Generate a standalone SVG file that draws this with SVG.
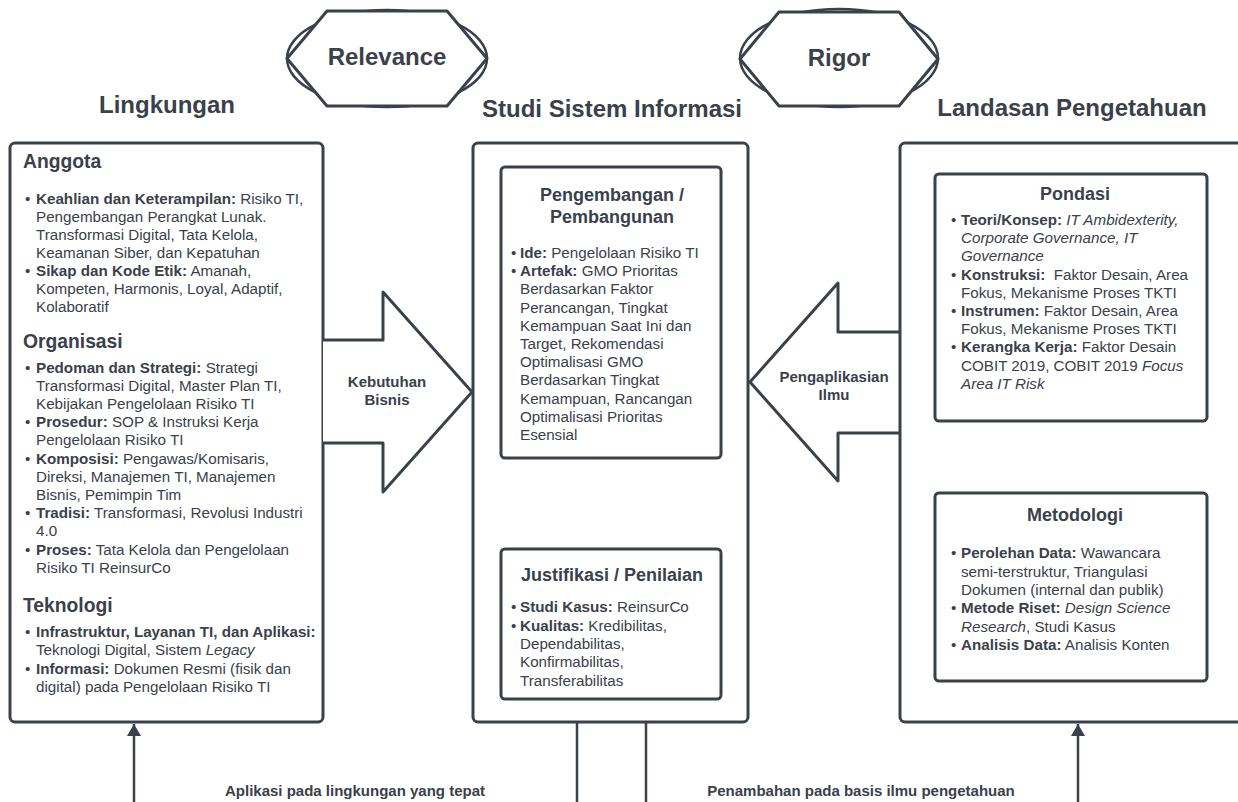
<svg xmlns="http://www.w3.org/2000/svg" width="1238" height="802" viewBox="0 0 1238 802">
<defs>
<style>
.t{font-family:"Liberation Sans",Arial,sans-serif;fill:#3a414a}
.bd{font-size:15.2px}
.b{font-weight:bold}
.i{font-style:italic}
.h{font-size:19.3px;font-weight:bold}
.sh{font-size:18px;font-weight:bold;text-anchor:middle}
.tt{font-size:24px;font-weight:bold;text-anchor:middle}
.lb{font-size:15px;font-weight:bold;text-anchor:middle}
.sm{font-size:12px;font-weight:bold}
.box{fill:#fff;stroke:#3a414a;stroke-width:3}
.ln{stroke:#3a414a;stroke-width:2.5;fill:none}
.hex{fill:#fff;stroke:#3a414a;stroke-width:3;stroke-linejoin:round}
.ell{fill:none;stroke:#3a414a;stroke-width:2.5}
</style>
<marker id="ah" viewBox="0 0 12 14" refX="12" refY="7" markerWidth="12" markerHeight="14" markerUnits="userSpaceOnUse" orient="auto">
<path d="M0,0 L12,7 L0,14 Z" fill="#3a414a"/>
</marker>
</defs>
<rect width="1238" height="802" fill="#fff"/>

<g id="relevance">
<ellipse class="ell" cx="387" cy="58.5" rx="100" ry="48.5"/>
<polygon class="hex" points="287,58.5 327,11 447,11 487,58.5 447,106 327,106"/>
<text class="t tt" x="387" y="65">Relevance</text>
</g>
<g id="rigor">
<ellipse class="ell" cx="839" cy="58" rx="99" ry="49"/>
<polygon class="hex" points="740,59 779,12 899,12 938,59 899,106 779,106"/>
<text class="t tt" x="839" y="66">Rigor</text>
</g>

<g id="titles">
<text class="t tt" x="167" y="113">Lingkungan</text>
<text class="t tt" x="612" y="117">Studi Sistem Informasi</text>
<text class="t tt" x="1072" y="116">Landasan Pengetahuan</text>
</g>

<g id="connectors">
<line class="ln" x1="134" y1="802" x2="134" y2="724" marker-end="url(#ah)"/>
<line class="ln" x1="1078" y1="802" x2="1078" y2="724" marker-end="url(#ah)"/>
<line class="ln" x1="577" y1="722" x2="577" y2="802"/>
<line class="ln" x1="646" y1="722" x2="646" y2="802"/>
<line class="ln" x1="581" y1="549" x2="581" y2="460" marker-end="url(#ah)"/>
<line class="ln" x1="638" y1="458" x2="638" y2="547" marker-end="url(#ah)"/>
<text class="t sm" x="575" y="507" text-anchor="end">Menilai</text>
<text class="t sm" x="644" y="507">Menentukan</text>
<text class="t lb" x="355" y="796">Aplikasi pada lingkungan yang tepat</text>
<text class="t lb" x="861" y="796">Penambahan pada basis ilmu pengetahuan</text>
</g>

<g id="lingkungan">
<rect class="box" x="10" y="143" width="313" height="579" rx="5"/>
<text class="t h" x="23" y="168">Anggota</text>
<g class="t bd">
<text x="25" y="204">•</text><text x="36" y="204"><tspan class="b">Keahlian dan Keterampilan:</tspan> Risiko TI,</text>
<text x="36" y="222">Pengembangan Perangkat Lunak.</text>
<text x="36" y="240">Transformasi Digital, Tata Kelola,</text>
<text x="36" y="258">Keamanan Siber, dan Kepatuhan</text>
<text x="25" y="276">•</text><text x="36" y="276"><tspan class="b">Sikap dan Kode Etik:</tspan> Amanah,</text>
<text x="36" y="294">Kompeten, Harmonis, Loyal, Adaptif,</text>
<text x="36" y="312">Kolaboratif</text>
</g>
<text class="t h" x="23" y="348">Organisasi</text>
<g class="t bd">
<text x="25" y="373">•</text><text x="36" y="373"><tspan class="b">Pedoman dan Strategi:</tspan> Strategi</text>
<text x="36" y="391">Transformasi Digital, Master Plan TI,</text>
<text x="36" y="409">Kebijakan Pengelolaan Risiko TI</text>
<text x="25" y="427">•</text><text x="36" y="427"><tspan class="b">Prosedur:</tspan> SOP &amp; Instruksi Kerja</text>
<text x="36" y="445">Pengelolaan Risiko TI</text>
<text x="25" y="464">•</text><text x="36" y="464"><tspan class="b">Komposisi:</tspan> Pengawas/Komisaris,</text>
<text x="36" y="482">Direksi, Manajemen TI, Manajemen</text>
<text x="36" y="500">Bisnis, Pemimpin Tim</text>
<text x="25" y="518">•</text><text x="36" y="518"><tspan class="b">Tradisi:</tspan> Transformasi, Revolusi Industri</text>
<text x="36" y="536">4.0</text>
<text x="25" y="555">•</text><text x="36" y="555"><tspan class="b">Proses:</tspan> Tata Kelola dan Pengelolaan</text>
<text x="36" y="573">Risiko TI ReinsurCo</text>
</g>
<text class="t h" x="23" y="612">Teknologi</text>
<g class="t bd">
<text x="25" y="637">•</text><text x="36" y="637"><tspan class="b">Infrastruktur, Layanan TI, dan Aplikasi:</tspan></text>
<text x="36" y="655">Teknologi Digital, Sistem <tspan class="i">Legacy</tspan></text>
<text x="25" y="674">•</text><text x="36" y="674"><tspan class="b">Informasi:</tspan> Dokumen Resmi (fisik dan</text>
<text x="36" y="692">digital) pada Pengelolaan Risiko TI</text>
</g>
</g>

<g id="studi">
<rect class="box" x="473" y="143" width="275" height="579" rx="5"/>
</g>

<g id="pengembangan">
<rect class="box" x="501" y="167" width="220" height="291" rx="4"/>
<text class="t sh" x="612" y="201">Pengembangan /</text>
<text class="t sh" x="612" y="223">Pembangunan</text>
<g class="t bd">
<text x="511" y="258">•</text><text x="520" y="258"><tspan class="b">Ide:</tspan> Pengelolaan Risiko TI</text>
<text x="511" y="276">•</text><text x="520" y="276"><tspan class="b">Artefak:</tspan> GMO Prioritas</text>
<text x="520" y="294">Berdasarkan Faktor</text>
<text x="520" y="313">Perancangan, Tingkat</text>
<text x="520" y="331">Kemampuan Saat Ini dan</text>
<text x="520" y="349">Target, Rekomendasi</text>
<text x="520" y="367">Optimalisasi GMO</text>
<text x="520" y="385">Berdasarkan Tingkat</text>
<text x="520" y="404">Kemampuan, Rancangan</text>
<text x="520" y="422">Optimalisasi Prioritas</text>
<text x="520" y="440">Esensial</text>
</g>
</g>

<g id="justifikasi">
<rect class="box" x="501" y="549" width="220" height="150" rx="4"/>
<text class="t sh" x="612" y="581">Justifikasi / Penilaian</text>
<g class="t bd">
<text x="511" y="612">•</text><text x="520" y="612"><tspan class="b">Studi Kasus:</tspan> ReinsurCo</text>
<text x="511" y="631">•</text><text x="520" y="631"><tspan class="b">Kualitas:</tspan> Kredibilitas,</text>
<text x="520" y="649">Dependabilitas,</text>
<text x="520" y="667">Konfirmabilitas,</text>
<text x="520" y="686">Transferabilitas</text>
</g>
</g>

<g id="kebutuhan">
<path class="hex" d="M323,340 H383 V292 L472,392 L383,492 V443 H323"/>
<text class="t lb" x="387" y="387">Kebutuhan</text>
<text class="t lb" x="387" y="405">Bisnis</text>
</g>

<g id="pengaplikasian">
<path class="hex" d="M900,332 H838 V283 L750,382 L838,481 V433 H900"/>
<text class="t lb" x="834" y="382">Pengaplikasian</text>
<text class="t lb" x="834" y="400">Ilmu</text>
</g>

<g id="landasan">
<rect class="box" x="900" y="143" width="360" height="579" rx="5"/>
</g>

<g id="pondasi">
<rect class="box" x="935" y="174" width="272" height="247" rx="4"/>
<text class="t sh" x="1075" y="200">Pondasi</text>
<g class="t bd">
<text x="951" y="225">•</text><text x="961" y="225"><tspan class="b">Teori/Konsep:</tspan> <tspan class="i">IT Ambidexterity,</tspan></text>
<text x="961" y="243" class="i">Corporate Governance, IT</text>
<text x="961" y="261" class="i">Governance</text>
<text x="951" y="280">•</text><text x="961" y="280" xml:space="preserve"><tspan class="b">Konstruksi:</tspan>  Faktor Desain, Area</text>
<text x="961" y="298">Fokus, Mekanisme Proses TKTI</text>
<text x="951" y="316">•</text><text x="961" y="316"><tspan class="b">Instrumen:</tspan> Faktor Desain, Area</text>
<text x="961" y="334">Fokus, Mekanisme Proses TKTI</text>
<text x="951" y="352">•</text><text x="961" y="352"><tspan class="b">Kerangka Kerja:</tspan> Faktor Desain</text>
<text x="961" y="371">COBIT 2019, COBIT 2019 <tspan class="i">Focus</tspan></text>
<text x="961" y="389" class="i">Area IT Risk</text>
</g>
</g>

<g id="metodologi">
<rect class="box" x="935" y="493" width="272" height="188" rx="4"/>
<text class="t sh" x="1075" y="521">Metodologi</text>
<g class="t bd">
<text x="951" y="558">•</text><text x="961" y="558"><tspan class="b">Perolehan Data:</tspan> Wawancara</text>
<text x="961" y="577">semi-terstruktur, Triangulasi</text>
<text x="961" y="595">Dokumen (internal dan publik)</text>
<text x="951" y="613">•</text><text x="961" y="613"><tspan class="b">Metode Riset:</tspan> <tspan class="i">Design Science</tspan></text>
<text x="961" y="632"><tspan class="i">Research</tspan>, Studi Kasus</text>
<text x="951" y="650">•</text><text x="961" y="650"><tspan class="b">Analisis Data:</tspan> Analisis Konten</text>
</g>
</g>
</svg>
